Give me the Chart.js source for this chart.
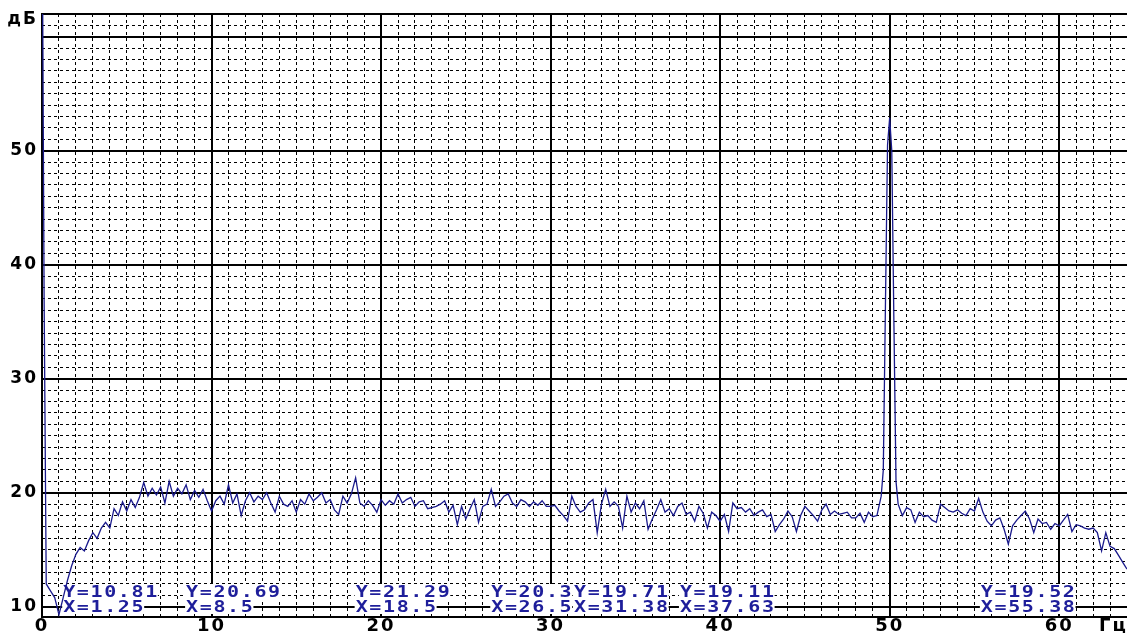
<!DOCTYPE html>
<html>
<head>
<meta charset="utf-8">
<title>Спектр</title>
<script src="https://cdn.jsdelivr.net/npm/chart.js@4/dist/chart.umd.min.js"></script>
<style>
  html, body { margin: 0; padding: 0; background: #fff; }
  #chart-wrap { width: 1127px; height: 633px; }
</style>
</head>
<body>
<div id="chart-wrap"><canvas id="spectrum" width="1127" height="633"></canvas></div>
<script>
// spectrum, one value every 0.25 Hz from 0 to 64 Hz
const stepHz = 0.25;
const levelDb = [
  75, 12.0, 11.4, 10.8,
  9.3, 10.8, 12.3, 13.6,
  14.6, 15.2, 14.9, 15.8,
  16.5, 16.0, 16.9, 17.4,
  16.9, 18.6, 18.0, 19.2,
  18.4, 19.4, 18.7, 19.6,
  20.9, 19.7, 20.4, 19.8,
  20.5, 19.1, 21.0, 19.7,
  20.4, 19.9, 20.7, 19.4,
  20.2, 19.6, 20.3, 19.3,
  18.4, 19.3, 19.7, 19.0,
  20.7, 19.1, 19.9, 18.0,
  19.3, 20.0, 19.2, 19.7,
  19.4, 20.0, 19.1, 18.3,
  19.7, 19.0, 18.8, 19.3,
  18.3, 19.4, 19.0, 19.9,
  19.3, 19.6, 20.0, 19.1,
  19.4, 18.5, 18.1, 19.7,
  19.1, 19.9, 21.3, 19.1,
  18.8, 19.3, 18.9, 18.3,
  19.4, 18.9, 19.3, 19.0,
  19.9, 19.1, 19.4, 19.6,
  18.8, 19.2, 19.3, 18.6,
  18.7, 18.8, 19.0, 19.3,
  18.3, 18.9, 17.2, 18.8,
  17.7, 18.6, 19.4, 17.4,
  18.8, 19.0, 20.3, 18.8,
  19.2, 19.7, 19.9, 19.1,
  18.8, 19.4, 19.2, 18.8,
  19.2, 18.9, 19.3, 18.8,
  18.8, 18.9, 18.4, 18.0,
  17.5, 19.7, 18.8, 18.3,
  18.5, 19.1, 19.4, 16.5,
  19.0, 20.3, 18.8, 19.2,
  18.8, 16.9, 19.7, 18.3,
  19.1, 18.6, 19.3, 16.8,
  17.7, 18.5, 19.4, 18.3,
  18.6, 18.0, 18.8, 19.1,
  18.1, 18.3, 17.5, 18.8,
  18.2, 16.9, 18.3, 18.0,
  17.5, 18.1, 16.6, 19.1,
  18.6, 18.7, 18.3, 18.6,
  18.0, 18.3, 18.5, 17.9,
  18.1, 16.6, 17.2, 17.7,
  18.4, 17.9, 16.6, 18.0,
  18.8, 18.4, 18.0, 17.5,
  18.5, 19.0, 18.1, 18.4,
  18.1, 18.2, 18.3, 17.8,
  17.8, 18.2, 17.4, 18.3,
  17.9, 18.0, 19.7, 36.3,
  52.9, 35.0, 19.0, 18.0,
  18.7, 18.5, 17.4, 18.3,
  17.9, 18.0, 17.6, 17.4,
  19.0, 18.7, 18.4, 18.3,
  18.5, 18.2, 18.0, 18.6,
  18.4, 19.5, 18.3, 17.5,
  17.1, 17.6, 17.8, 16.8,
  15.5, 17.1, 17.6, 18.0,
  18.4, 17.7, 16.5, 17.7,
  17.3, 17.4, 16.8, 17.3,
  17.1, 17.6, 18.1, 16.6,
  17.2, 17.1, 16.9, 16.8,
  16.9, 16.5, 14.9, 16.5,
  15.3, 15.1, 14.5, 13.9,
  13.3
];

// extra points where the trace is steep (DC and the 50 Hz line)
const detailHz = [0.125, 49.625, 49.875, 50.125, 50.375];
const detailDb = [37.0, 22.0, 50.5, 50.0, 21.0];

// cursor readouts
const markerHz = [1.25, 8.5, 18.5, 26.5, 31.38, 37.63, 55.38];
const markerDb = [10.81, 20.69, 21.29, 20.3, 19.71, 19.11, 19.52];

const xMajorTicks = [0, 10, 20, 30, 40, 50, 60];
const yMajorTicks = [10, 20, 30, 40, 50, 60];
const xUnit = "Гц";
const yUnit = "дБ";
const xRange = [0, 64];
const yRange = [9.1, 62];

document.addEventListener("DOMContentLoaded", function () {
  const monoFont = "'DejaVu Sans Mono', monospace";
  const axisFont = "'DejaVu Sans', sans-serif";
  const traceColor = "#1a1a8c";
  const textBlue = "#1e1e9a";
  const clear = "rgba(0,0,0,0)";

  const points = levelDb.map((v, i) => ({ x: i * stepHz, y: v }));
  detailHz.forEach((hz, i) => points.push({ x: hz, y: detailDb[i] }));
  points.sort((a, b) => a.x - b.x);

  const xUnitPos = 63.2;
  const yUnitPos = 61.5;

  function noPadding(scale) {
    scale.paddingLeft = 0;
    scale.paddingRight = 0;
    scale.paddingTop = 0;
    scale.paddingBottom = 0;
  }

  function everyUnit(min, max) {
    const list = [];
    for (let v = Math.ceil(min); v <= max; v++) list.push({ value: v });
    return list;
  }

  const spacingPlugin = {
    id: "wideText",
    beforeDraw(chart) {
      chart.ctx.letterSpacing = "2px";
    },
  };

  // readout text is a wide bitmap-like font: stretch mono glyphs a bit
  const cursorPlugin = {
    id: "cursorReadout",
    beforeDatasetsDraw(chart) {
      const { ctx, chartArea, scales } = chart;
      const stretch = 1.25;
      ctx.save();
      ctx.font = "bold 16px " + monoFont;
      ctx.letterSpacing = "1.3px";
      ctx.textBaseline = "alphabetic";
      ctx.textAlign = "left";
      markerHz.forEach((hz, i) => {
        const x = scales.x.getPixelForValue(hz);
        const rows = [
          ["Y=" + markerDb[i], chartArea.bottom - 20],
          ["X=" + hz, chartArea.bottom - 5],
        ];
        rows.forEach(([text, y]) => {
          const w = ctx.measureText(text).width * stretch;
          ctx.fillStyle = "#fff";
          ctx.fillRect(x - 1, y - 13, w, 15);
          ctx.save();
          ctx.translate(x, y);
          ctx.scale(stretch, 1);
          ctx.fillStyle = textBlue;
          ctx.fillText(text, 0, 0);
          ctx.restore();
        });
      });
      ctx.restore();
    },
  };

  const ctx = document.getElementById("spectrum").getContext("2d");
  new Chart(ctx, {
    type: "line",
    data: {
      datasets: [
        {
          data: points,
          borderColor: traceColor,
          borderWidth: 1.3,
          pointRadius: 0,
          tension: 0,
          fill: false,
        },
      ],
    },
    options: {
      responsive: false,
      animation: false,
      devicePixelRatio: 1,
      layout: { padding: { top: 14, left: 0, right: 0, bottom: 0 } },
      plugins: { legend: { display: false }, tooltip: { enabled: false } },
      scales: {
        x: {
          type: "linear",
          position: "bottom",
          min: xRange[0],
          max: xRange[1],
          afterBuildTicks: (s) => {
            s.ticks = xMajorTicks.concat([xUnitPos]).map((v) => ({ value: v }));
          },
          afterFit: (s) => {
            s.height = 16;
            noPadding(s);
          },
          ticks: {
            autoSkip: false,
            maxRotation: 0,
            padding: -1,
            color: "#000",
            font: { family: axisFont, size: 18, weight: "bold" },
            callback: (v) => (v === xUnitPos ? xUnit : v),
          },
          grid: {
            color: (c) => (c.tick && c.tick.value % 10 === 0 ? "#000" : clear),
            lineWidth: 2,
            drawTicks: false,
            tickLength: 0,
          },
          border: { display: true, color: "#000", width: 2 },
        },
        xMinor: {
          type: "linear",
          position: "bottom",
          min: xRange[0],
          max: xRange[1],
          afterBuildTicks: (s) => {
            s.ticks = everyUnit(xRange[0], xRange[1]);
          },
          afterFit: (s) => {
            s.height = 0;
            noPadding(s);
          },
          ticks: { display: false },
          grid: {
            color: (c) => (c.tick && c.tick.value % 10 !== 0 ? "#000" : clear),
            lineWidth: 1,
            drawTicks: false,
            tickLength: 0,
          },
          border: { display: false, dash: [3, 3] },
        },
        y: {
          type: "linear",
          position: "left",
          min: yRange[0],
          max: yRange[1],
          afterBuildTicks: (s) => {
            s.ticks = yMajorTicks.concat([yUnitPos, yRange[1]]).map((v) => ({ value: v }));
          },
          afterFit: (s) => {
            s.width = 42;
            noPadding(s);
          },
          ticks: {
            autoSkip: false,
            padding: 4,
            color: "#000",
            font: { family: axisFont, size: 17, weight: "bold" },
            callback: (v) => {
              if (v === yUnitPos) return yUnit;
              if (v >= 60) return "";
              return v;
            },
          },
          grid: {
            color: (c) =>
              c.tick && (c.tick.value % 10 === 0 || c.tick.value === yRange[1]) ? "#000" : clear,
            lineWidth: 2,
            drawTicks: false,
            tickLength: 0,
          },
          border: { display: true, color: "#000", width: 2 },
        },
        yMinor: {
          type: "linear",
          position: "left",
          min: yRange[0],
          max: yRange[1],
          afterBuildTicks: (s) => {
            s.ticks = everyUnit(yRange[0], yRange[1] - 1);
          },
          afterFit: (s) => {
            s.width = 0;
            noPadding(s);
          },
          ticks: { display: false },
          grid: {
            color: (c) => (c.tick && c.tick.value % 10 !== 0 ? "#000" : clear),
            lineWidth: 1,
            drawTicks: false,
            tickLength: 0,
          },
          border: { display: false, dash: [3, 3] },
        },
      },
    },
    plugins: [spacingPlugin, cursorPlugin],
  });
});
</script>
</body>
</html>
